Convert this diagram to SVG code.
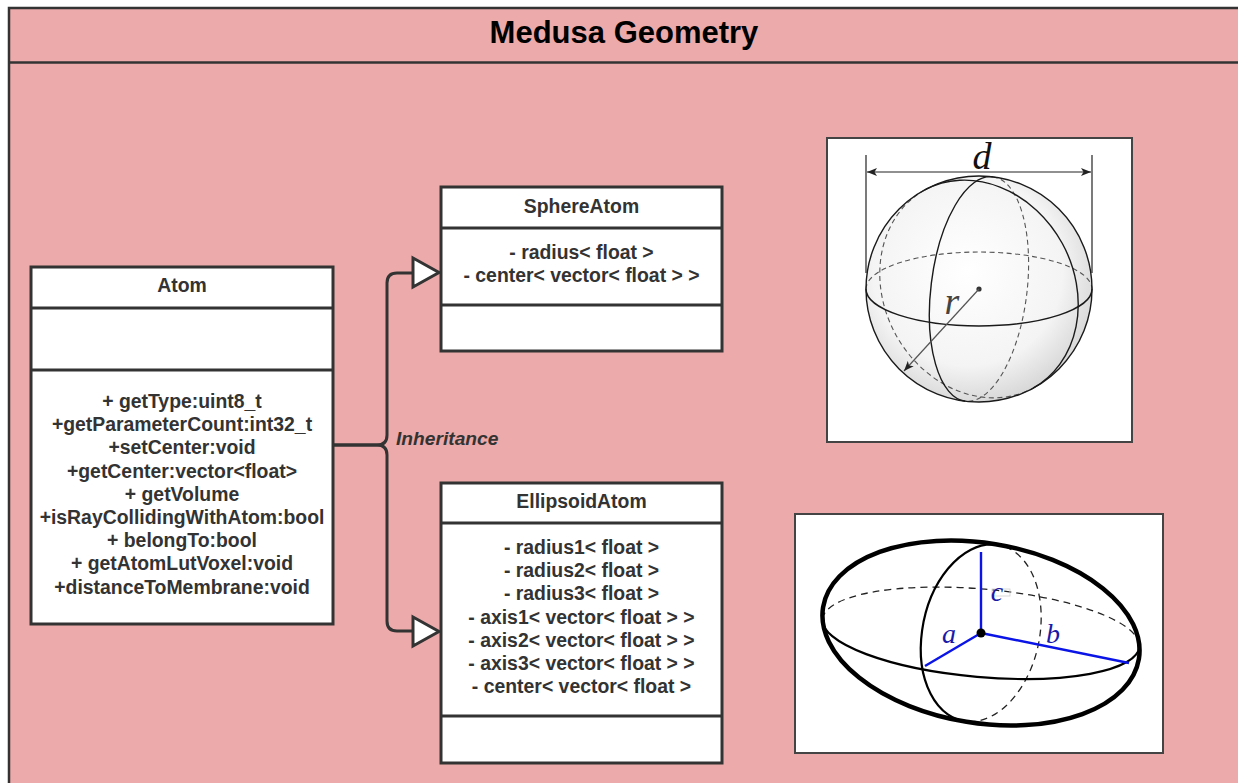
<svg xmlns="http://www.w3.org/2000/svg" width="1238" height="783" viewBox="0 0 1238 783">
  <style>
    .box { fill: #ffffff; stroke: #333333; stroke-width: 3; }
    .div { stroke: #333333; stroke-width: 3; fill: none; }
    .lbl { font-family: "Liberation Sans", Arial, sans-serif; font-weight: bold; font-size: 19.4px; fill: #333333; text-anchor: middle; }
    .conn { fill: none; stroke: #333333; stroke-width: 3; }
    .head { fill: #ffffff; stroke: #333333; stroke-width: 3; stroke-linejoin: miter; }
    .pic { fill: #ffffff; stroke: #444444; stroke-width: 2; }
    .solid { fill: none; stroke: #1a1a1a; stroke-width: 1.4; }
    .dash { fill: none; stroke: #555555; stroke-width: 1.1; stroke-dasharray: 5 3.5; }
    .esolid { fill: none; stroke: #000000; stroke-width: 2.2; }
    .edash { fill: none; stroke: #222222; stroke-width: 1.3; stroke-dasharray: 7 5; }
    .axis { stroke: #0a14e6; stroke-width: 2.4; fill: none; }
    .math { font-family: "Liberation Serif", "Times New Roman", serif; font-style: italic; }
  </style>
  <defs>
    <radialGradient id="ballShade" cx="0.45" cy="0.42" r="0.6">
      <stop offset="0" stop-color="#ffffff"/>
      <stop offset="0.7" stop-color="#f4f4f4"/>
      <stop offset="1" stop-color="#d6d6d6"/>
    </radialGradient>
    <marker id="dimTip" viewBox="0 0 10 8" refX="10" refY="4" markerWidth="10" markerHeight="8" markerUnits="userSpaceOnUse" orient="auto-start-reverse">
      <path d="M0,0 L10,4 L0,8 L2.5,4 Z" fill="#222222"/>
    </marker>
  </defs>

  <!-- outer frame with title band -->
  <g id="frame">
    <rect x="9" y="8" width="1245" height="790" fill="#ecaaab" stroke="#333333" stroke-width="2.5"/>
    <line x1="9" y1="62.5" x2="1238" y2="62.5" stroke="#333333" stroke-width="2.5"/>
    <text x="624" y="43" font-family="Liberation Sans, Arial, sans-serif" font-weight="bold" font-size="31" fill="#000000" text-anchor="middle">Medusa Geometry</text>
  </g>

  <!-- inheritance connectors -->
  <g id="connectors">
    <path class="conn" d="M333,445 H377 Q387,445 387,435 V283 Q387,273 397,273 H413"/>
    <path class="conn" d="M333,445 H377 Q387,445 387,455 V621 Q387,631 397,631 H413"/>
    <polygon class="head" points="413,258 439,272.5 413,287"/>
    <polygon class="head" points="413,617 439,631.5 413,646"/>
    <text x="396" y="445" font-family="Liberation Sans, Arial, sans-serif" font-weight="bold" font-style="italic" font-size="19.2" fill="#333333">Inheritance</text>
  </g>

  <!-- base class -->
  <g id="atom">
    <rect class="box" x="31" y="267" width="302" height="357"/>
    <line class="div" x1="31" y1="308" x2="333" y2="308"/>
    <line class="div" x1="31" y1="370" x2="333" y2="370"/>
    <text class="lbl" x="182" y="292">Atom</text>
    <text class="lbl" x="182" y="408">+ getType:uint8_t</text>
    <text class="lbl" x="182" y="431.2">+getParameterCount:int32_t</text>
    <text class="lbl" x="182" y="454.4">+setCenter:void</text>
    <text class="lbl" x="182" y="477.6">+getCenter:vector&lt;float&gt;</text>
    <text class="lbl" x="182" y="500.8">+ getVolume</text>
    <text class="lbl" x="182" y="524">+isRayCollidingWithAtom:bool</text>
    <text class="lbl" x="182" y="547.2">+ belongTo:bool</text>
    <text class="lbl" x="182" y="570.4">+ getAtomLutVoxel:void</text>
    <text class="lbl" x="182" y="593.6">+distanceToMembrane:void</text>
  </g>

  <!-- sphere subclass -->
  <g id="sphereAtom">
    <rect class="box" x="441" y="187" width="281" height="164"/>
    <line class="div" x1="441" y1="228" x2="722" y2="228"/>
    <line class="div" x1="441" y1="305" x2="722" y2="305"/>
    <text class="lbl" x="581.5" y="213">SphereAtom</text>
    <text class="lbl" x="581.5" y="259">- radius&lt; float &gt;</text>
    <text class="lbl" x="581.5" y="282">- center&lt; vector&lt; float &gt; &gt;</text>
  </g>

  <!-- ellipsoid subclass -->
  <g id="ellipsoidAtom">
    <rect class="box" x="441" y="483" width="281" height="280"/>
    <line class="div" x1="441" y1="523" x2="722" y2="523"/>
    <line class="div" x1="441" y1="716" x2="722" y2="716"/>
    <text class="lbl" x="581.5" y="508">EllipsoidAtom</text>
    <text class="lbl" x="581.5" y="554">- radius1&lt; float &gt;</text>
    <text class="lbl" x="581.5" y="577.2">- radius2&lt; float &gt;</text>
    <text class="lbl" x="581.5" y="600.4">- radius3&lt; float &gt;</text>
    <text class="lbl" x="581.5" y="623.6">- axis1&lt; vector&lt; float &gt; &gt;</text>
    <text class="lbl" x="581.5" y="646.8">- axis2&lt; vector&lt; float &gt; &gt;</text>
    <text class="lbl" x="581.5" y="670">- axis3&lt; vector&lt; float &gt; &gt;</text>
    <text class="lbl" x="581.5" y="693.2">- center&lt; vector&lt; float &gt;</text>
  </g>

  <!-- sphere sketch: diameter d, radius r -->
  <g id="sphereSketch">
    <rect class="pic" x="827" y="138" width="305" height="304"/>
    <circle cx="979" cy="289" r="113" fill="url(#ballShade)" stroke="none"/>
    <!-- hidden halves -->
    <path class="dash" d="M866,289 A113,37 0 0 1 1092,289"/>
    <path class="dash" d="M992.8,176.8 A48,113 7 0 1 965.2,401.2"/>
    <path class="dash" d="M924.9,189.8 A113,96 61.4 0 0 1033.1,388.2"/>
    <!-- visible halves -->
    <path class="solid" d="M866,289 A113,37 0 0 0 1092,289"/>
    <path class="solid" d="M992.8,176.8 A48,113 7 0 0 965.2,401.2"/>
    <path class="solid" d="M924.9,189.8 A113,96 61.4 0 1 1033.1,388.2"/>
    <circle cx="979" cy="289" r="113" class="solid" stroke-width="1.6"/>
    <!-- dimension d -->
    <line x1="866" y1="155" x2="866" y2="273" stroke="#222222" stroke-width="1.2"/>
    <line x1="1092" y1="155" x2="1092" y2="273" stroke="#222222" stroke-width="1.2"/>
    <line x1="867" y1="172" x2="1091" y2="172" stroke="#222222" stroke-width="1.2" marker-start="url(#dimTip)" marker-end="url(#dimTip)"/>
    <text class="math" x="982" y="169" font-size="38" fill="#111111" text-anchor="middle">d</text>
    <!-- radius r -->
    <circle cx="979" cy="289" r="2.6" fill="#333333"/>
    <line x1="979" y1="289" x2="904" y2="371" stroke="#555555" stroke-width="1.2" marker-end="url(#dimTip)"/>
    <text class="math" x="952" y="314" font-size="38" fill="#444444" text-anchor="middle">r</text>
  </g>

  <!-- ellipsoid sketch: semi-axes a, b, c -->
  <g id="ellipsoidSketch">
    <rect class="pic" x="795" y="514" width="368" height="239"/>
    <!-- hidden halves -->
    <path class="edash" d="M822.6,619.1 A159,44 5 0 1 1139.4,646.9"/>
    <path class="edash" d="M993.4,544.4 A58,89 12 0 1 968.6,721.6"/>
    <!-- visible halves -->
    <path class="esolid" d="M822.6,619.1 A159,44 5 0 0 1139.4,646.9"/>
    <path class="esolid" d="M993.4,544.4 A58,89 12 0 0 968.6,721.6"/>
    <ellipse cx="981" cy="633" rx="160" ry="90" transform="rotate(9.3 981 633)" fill="none" stroke="#000000" stroke-width="4.5"/>
    <!-- semi-axes -->
    <line class="axis" x1="981" y1="633" x2="981" y2="552"/>
    <line class="axis" x1="981" y1="633" x2="925" y2="666"/>
    <line class="axis" x1="981" y1="633" x2="1129" y2="663"/>
    <circle cx="981" cy="633" r="4.5" fill="#000000"/>
    <rect x="992" y="589" width="18" height="7" fill="none" stroke="#d0d0d0" stroke-width="0.8"/>
    <text class="math" x="997" y="601" font-size="28" fill="#1a1aa8" text-anchor="middle">c</text>
    <text class="math" x="949" y="643" font-size="28" fill="#1a1aa8" text-anchor="middle">a</text>
    <text class="math" x="1053" y="643" font-size="28" fill="#1a1aa8" text-anchor="middle">b</text>
  </g>
</svg>
